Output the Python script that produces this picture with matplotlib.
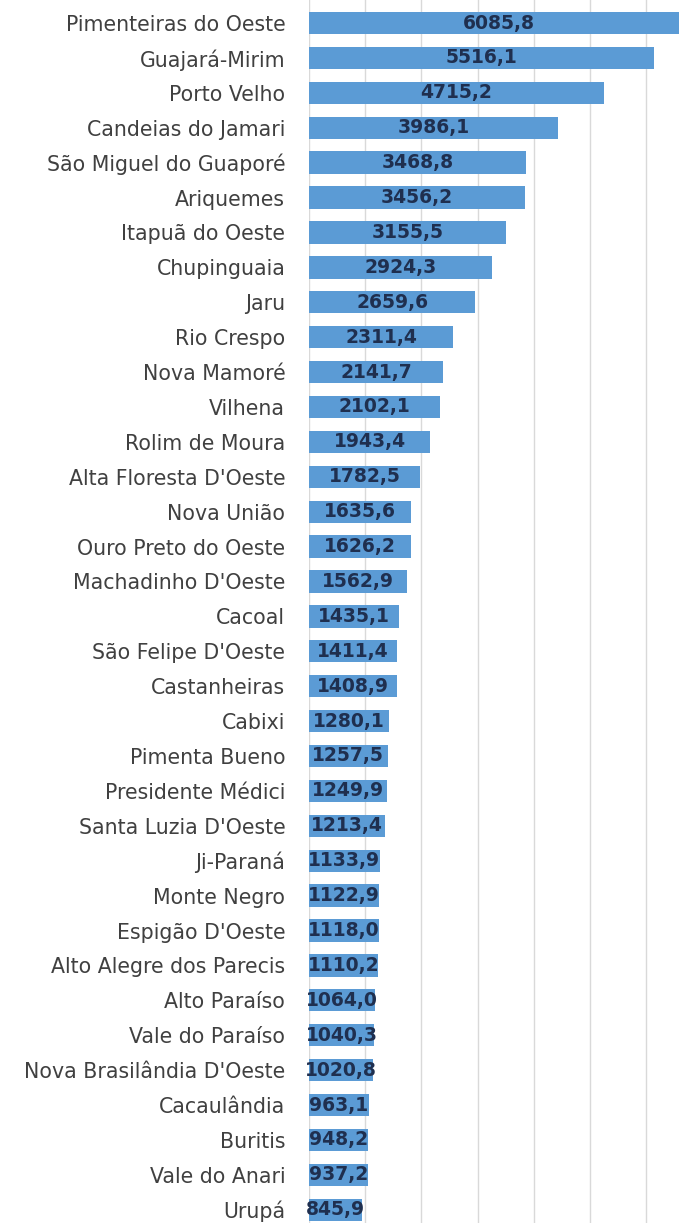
import matplotlib
matplotlib.use("Agg")
import matplotlib.pyplot as plt
from matplotlib.ticker import MultipleLocator

# Municipalities of Rondônia, sorted by value (descending)
municipios = [
    "Pimenteiras do Oeste", "Guajará-Mirim", "Porto Velho", "Candeias do Jamari",
    "São Miguel do Guaporé", "Ariquemes", "Itapuã do Oeste", "Chupinguaia", "Jaru",
    "Rio Crespo", "Nova Mamoré", "Vilhena", "Rolim de Moura", "Alta Floresta D'Oeste",
    "Nova União", "Ouro Preto do Oeste", "Machadinho D'Oeste", "Cacoal",
    "São Felipe D'Oeste", "Castanheiras", "Cabixi", "Pimenta Bueno",
    "Presidente Médici", "Santa Luzia D'Oeste", "Ji-Paraná", "Monte Negro",
    "Espigão D'Oeste", "Alto Alegre dos Parecis", "Alto Paraíso", "Vale do Paraíso",
    "Nova Brasilândia D'Oeste", "Cacaulândia", "Buritis", "Vale do Anari", "Urupá",
]
valores = [
    6085.8, 5516.1, 4715.2, 3986.1, 3468.8, 3456.2, 3155.5, 2924.3, 2659.6,
    2311.4, 2141.7, 2102.1, 1943.4, 1782.5, 1635.6, 1626.2, 1562.9, 1435.1,
    1411.4, 1408.9, 1280.1, 1257.5, 1249.9, 1213.4, 1133.9, 1122.9, 1118.0,
    1110.2, 1064.0, 1040.3, 1020.8, 963.1, 948.2, 937.2, 845.9,
]

fig = plt.figure(figsize=(6.79, 12.23), dpi=100)
ax = fig.add_axes([0.455, 0.0, 0.545, 1.0])

pos = list(range(len(valores)))
ax.barh(pos, valores, height=0.64, color="#5B9BD5", zorder=2)

for y, v in zip(pos, valores):
    txt = f"{v:.1f}".replace(".", ",")
    ax.text(v / 2, y, txt, ha="center", va="center", fontsize=13.5,
            fontweight="bold", color="#1F2F4F", zorder=3, clip_on=False)

ax.set_xlim(0, 5920)
ax.set_ylim(34.38, -0.66)
ax.xaxis.set_major_locator(MultipleLocator(900))
ax.grid(axis="x", color="#D9D9D9", linewidth=1, zorder=0)
ax.set_xticklabels([])
ax.tick_params(axis="x", length=0)

ax.set_yticks(pos)
ax.set_yticklabels(municipios, fontsize=14.8, color="#404040")
ax.tick_params(axis="y", length=0, pad=17)

for s in ax.spines.values():
    s.set_visible(False)

fig.savefig("out.png", dpi=100)
